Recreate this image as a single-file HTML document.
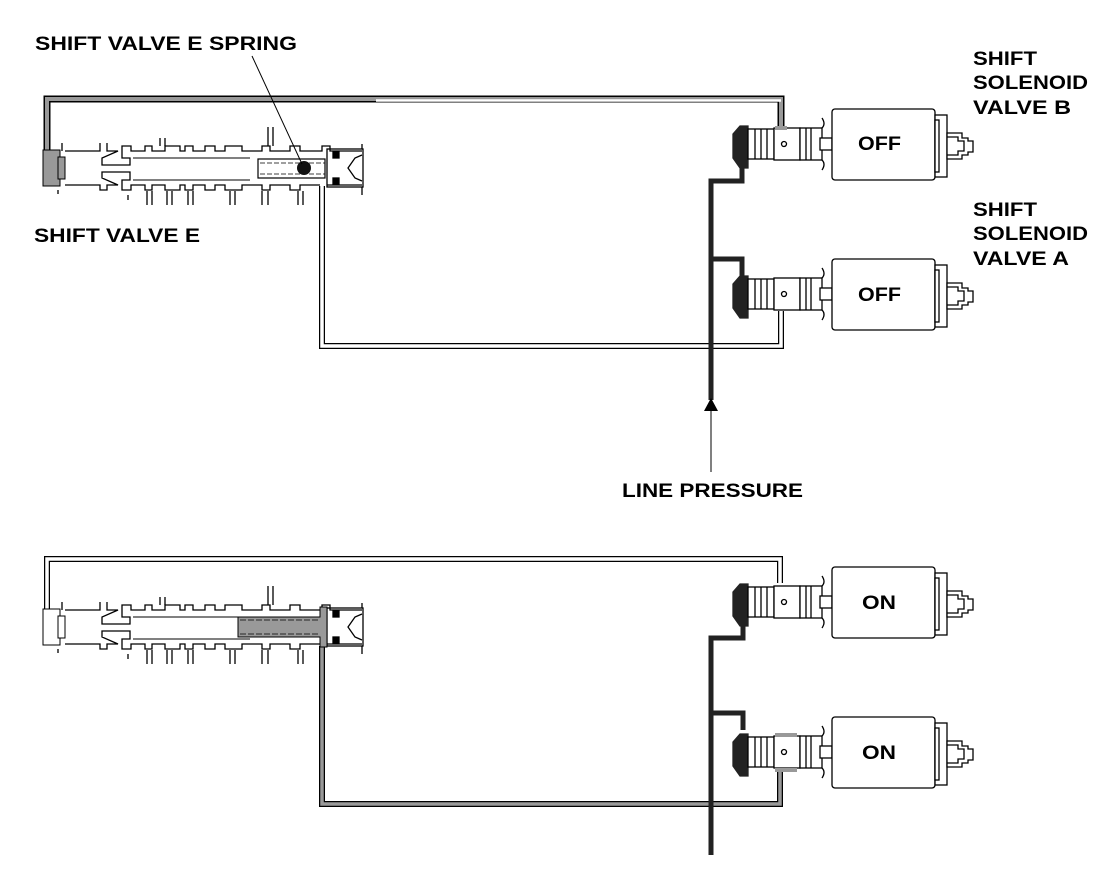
<!DOCTYPE html>
<html><head><meta charset="utf-8"><style>
html,body{margin:0;padding:0;background:#fff;}
svg{display:block;font-family:"Liberation Sans",Arial,sans-serif;font-weight:bold;}
</style></head><body>
<svg width="1112" height="888" viewBox="0 0 1112 888" xmlns="http://www.w3.org/2000/svg">
<defs>
<g id="sol" fill="#fff" stroke="#000" stroke-width="1.3">
  <path d="M733,-10 L740,-18 L748,-18 L748,24 L740,24 L733,14 Z" fill="#222" stroke="#222"/>
  <rect x="748" y="-15" width="26" height="30"/>
  <line x1="755" y1="-15" x2="755" y2="15"/><line x1="761" y1="-15" x2="761" y2="15"/><line x1="767" y1="-15" x2="767" y2="15"/>
  <rect x="774" y="-16" width="26" height="32"/>
  <circle cx="784" cy="0" r="2.5"/>
  <rect x="800" y="-16" width="22" height="32"/>
  <line x1="806" y1="-16" x2="806" y2="16"/><line x1="811" y1="-16" x2="811" y2="16"/>
  <rect x="820" y="-6" width="12" height="12"/>
  <path d="M822,-16 q4,-4 0,-10 M822,16 q4,4 0,10" fill="none"/>
  <rect x="832" y="-35" width="103" height="71" rx="3"/>
  <rect x="935" y="-29" width="12" height="62"/>
  <rect x="935" y="-24" width="4" height="52"/>
  <path d="M947,-11 L962,-11 L962,-6 L968,-6 L968,-3 L973,-3 L973,8 L968,8 L968,11 L962,11 L962,15 L947,15 Z"/>
  <path d="M947,-7 L958,-7 L958,-3 L964,-3 L964,7 L958,7 L958,11 L947,11" fill="none"/>
</g>
<g id="valve" fill="none" stroke="#000" stroke-width="1.3">
  <path d="M65,151 L100,151 L100,143 M107,143 L107,151 L118,151 L102,158 L102,165 L130,165 L130,158 L122,158 L122,146 L131,146 L131,151 L145,151 L145,146 L152,146 L152,151 L165,151 L165,146 L180,146 L180,151 L185,151 L185,146 L193,146 L193,151 L205,151 L205,146 L215,146 L215,151 L225,151 L225,146 L242,146 L242,151 L262,151 L262,146 L270,146 L270,151 L290,151 L290,146 L300,146 L300,151 L322,151 L322,146 L330,146 L330,151 L362,151"/>
  <path d="M65,185 L100,185 L100,190 L107,190 L107,185 L118,185 L102,178 L102,172 L130,172 L130,180 L122,180 L122,190 L131,190 L131,185 L145,185 L145,190 L152,190 L152,185 L165,185 L165,190 L180,190 L180,185 L185,185 L185,190 L193,190 L193,185 L205,185 L205,190 L215,190 L215,185 L225,185 L225,190 L242,190 L242,185 L262,185 L262,190 L270,190 L270,185 L290,185 L290,190 L300,190 L300,185 L320,185 M327,185 L362,185"/>
  <path d="M147,191 V205 M152,191 V205 M167,191 V205 M172,191 V205 M188,191 V205 M193,191 V205 M230,191 V205 M235,191 V205 M262,191 V205 M268,191 V205 M298,191 V205 M303,191 V205 M268,146 V127 M273,146 V127 M160,146 V138 M165,146 V138 M62,151 V143 M58,190 V194 M128,195 V200"/>
  <path d="M133,158 H250 M133,180 H250" stroke-width="1"/>
  <rect x="327" y="149" width="36" height="38"/>
  <rect x="333" y="152" width="6" height="6" fill="#000"/><rect x="333" y="178" width="6" height="6" fill="#000"/>
  <path d="M362,155 L355,158 L348,168 L355,178 L362,181"/>
  <path d="M362,149 V144 M362,187 V195"/>
</g>
</defs>

<g font-size="19">
<text x="35" y="50" textLength="262" lengthAdjust="spacingAndGlyphs">SHIFT VALVE E SPRING</text>
<text x="34" y="242" textLength="166" lengthAdjust="spacingAndGlyphs">SHIFT VALVE E</text>
<text x="973" y="65" textLength="64" lengthAdjust="spacingAndGlyphs">SHIFT</text>
<text x="973" y="89" textLength="115" lengthAdjust="spacingAndGlyphs">SOLENOID</text>
<text x="973" y="114" textLength="98" lengthAdjust="spacingAndGlyphs">VALVE B</text>
<text x="973" y="216" textLength="64" lengthAdjust="spacingAndGlyphs">SHIFT</text>
<text x="973" y="240" textLength="115" lengthAdjust="spacingAndGlyphs">SOLENOID</text>
<text x="973" y="265" textLength="96" lengthAdjust="spacingAndGlyphs">VALVE A</text>
<text x="622" y="497" textLength="181" lengthAdjust="spacingAndGlyphs">LINE PRESSURE</text>
</g>

<path d="M47,152 V99 H781 V126" fill="none" stroke="#000" stroke-width="7"/>
<path d="M47,152 V99 H781 V126" fill="none" stroke="#999" stroke-width="4"/>
<path d="M376,100.5 H781" stroke="#fff" stroke-width="2.5"/>
<path d="M322,186 V346 H781 V311" fill="none" stroke="#000" stroke-width="6"/>
<path d="M322,186 V346 H781 V311" fill="none" stroke="#fff" stroke-width="3.5"/>

<use href="#valve"/>
<rect x="43" y="150" width="17" height="36" fill="#999" stroke="#000"/>
<rect x="58" y="157" width="7" height="22" fill="#999" stroke="#000"/>
<rect x="258" y="159" width="67" height="19" fill="none" stroke="#000" stroke-width="1.2"/>
<path d="M260,163 H325 M260,174 H325" stroke="#000" stroke-dasharray="5,2" stroke-width="0.8"/>
<circle cx="304" cy="168" r="7" fill="#111"/>
<line x1="252" y1="56" x2="302" y2="164" stroke="#000" stroke-width="1"/>

<path d="M711,400 V181 H742 V162 M711,259 H742 V280" fill="none" stroke="#222" stroke-width="5"/>
<polygon points="711,398 704,411 718,411" fill="#000"/>
<line x1="711" y1="411" x2="711" y2="472" stroke="#000" stroke-width="1"/>

<use href="#sol" transform="translate(0,144)"/>
<use href="#sol" transform="translate(0,294)"/>
<rect x="775" y="126" width="12" height="4" fill="#999"/>

<path d="M47,610 V559 H780 V583" fill="none" stroke="#000" stroke-width="6"/>
<path d="M47,610 V559 H780 V583" fill="none" stroke="#fff" stroke-width="3.5"/>
<path d="M322,646 V804 H780 V770" fill="none" stroke="#000" stroke-width="6"/>
<path d="M322,646 V804 H780 V770" fill="none" stroke="#999" stroke-width="3.5"/>

<use href="#valve" transform="translate(0,459)"/>
<rect x="43" y="609" width="17" height="36" fill="#fff" stroke="#000"/>
<rect x="58" y="616" width="7" height="22" fill="#fff" stroke="#000"/>
<path d="M238,617 H320 V607 H327 V647 H320 V637 H238 Z" fill="#999" stroke="#000"/>
<path d="M240,620 H320 M240,634 H320" stroke="#000" stroke-dasharray="6,2" stroke-width="0.8"/>

<path d="M711,855 V638 H743 V622 M711,713 H743 V730" fill="none" stroke="#222" stroke-width="5"/>

<use href="#sol" transform="translate(0,602)"/>
<use href="#sol" transform="translate(0,752)"/>
<rect x="775" y="768" width="22" height="4" fill="#999"/>
<rect x="775" y="733" width="22" height="4" fill="#999"/>
<g font-size="19">
<text x="858" y="150" textLength="43" lengthAdjust="spacingAndGlyphs">OFF</text>
<text x="858" y="301" textLength="43" lengthAdjust="spacingAndGlyphs">OFF</text>
<text x="862" y="609" textLength="34" lengthAdjust="spacingAndGlyphs">ON</text>
<text x="862" y="759" textLength="34" lengthAdjust="spacingAndGlyphs">ON</text>
</g>
</svg>
</body></html>
